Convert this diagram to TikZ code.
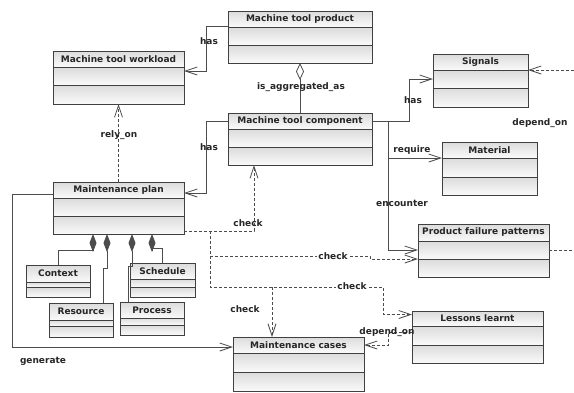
\documentclass[tikz,border=0pt]{standalone}
\usepackage{fontspec}
\setmainfont{DejaVu Sans}
\usetikzlibrary{arrows.meta,positioning,shadows}
\tikzset{
    >={Straight Barb[length=12pt,width=8pt]},
    klasse/.style={
           rectangle,
           draw=black!75, line width=0.9pt,
           top color=black!14, bottom color=black!2,
           anchor=north west,
           inner sep=0pt, outer sep=0pt,
           font=\bfseries\fontsize{9}{10}\selectfont, text=black!85,
           drop shadow={shadow xshift=1.2pt, shadow yshift=-1.2pt, opacity=0.3}},
    rum/.style={
           klasse,
           anchor=north},
    pil/.style={
           ->,
           draw=black!70, line width=0.8pt},
    stiplet/.style={
           pil,
           dash pattern=on 3pt off 2pt},
    komp/.style={
           draw=black!70, line width=0.8pt,
           -{Diamond[length=18pt,width=7pt]}},
    aggr/.style={
           draw=black!70, line width=0.8pt,
           -{Diamond[length=17pt,width=8pt,fill=white]}},
    tekst/.style={
           font=\bfseries\fontsize{9}{10}\selectfont, text=black!85,
           inner sep=1pt}
}
% name, position, width, title, heights of the three parts
\newcommand{\klasse}[7]{%
  \node[klasse, minimum width=#3, minimum height=#5] (#1) at #2 {#4};
  \node[rum, minimum width=#3, minimum height=#6, below=0pt of #1] (#1-a) {};
  \node[rum, minimum width=#3, minimum height=#7, below=0pt of #1-a] (#1-b) {};
}

\begin{document}
\begin{tikzpicture}[x=1pt,y=-1pt]
  \useasboundingbox (0,0) rectangle (574,392);
  % klasser
  \klasse{prod}{(228,11)}{144pt}{Machine tool product}{16pt}{18pt}{18pt}
  \klasse{wkld}{(53,51)}{131pt}{Machine tool workload}{16pt}{18pt}{19pt}
  \klasse{comp}{(228,113)}{144pt}{Machine tool component}{16pt}{18pt}{18pt}
  \klasse{plan}{(53,182)}{131pt}{Maintenance plan}{16pt}{18pt}{18pt}
  \klasse{ctx}{(26,265)}{64pt}{Context}{17pt}{5pt}{10pt}
  \klasse{res}{(49,303)}{64pt}{Resource}{17pt}{6pt}{11pt}
  \klasse{sched}{(130,263)}{65pt}{Schedule}{16pt}{8pt}{10pt}
  \klasse{proc}{(120,302)}{64pt}{Process}{16pt}{7pt}{10pt}
  \klasse{cases}{(233,337)}{131pt}{Maintenance cases}{16pt}{19pt}{19pt}
  \klasse{sig}{(433,54)}{95pt}{Signals}{16pt}{18pt}{19pt}
  \klasse{mat}{(442,142)}{95pt}{Material}{16pt}{19pt}{18pt}
  \klasse{pfp}{(418,224)}{131pt}{Product failure patterns}{17pt}{18pt}{18pt}
  \klasse{less}{(412,311)}{131pt}{Lessons learnt}{15pt}{19pt}{18pt}
  % forbindelser
  \draw[pil] ([yshift=-7pt]prod.west) -- ++(-22,0) |- ([yshift=5pt]wkld-a.east);
  \draw[aggr] (comp.north) -- (prod-b.south);
  \draw[pil] (comp.west) -- ++(-22,0) |- ([yshift=-3pt]plan.east);
  \draw[pil] (comp.east) -- ++(37,0) |- (sig-a.west);
  \draw[pil] (comp.east) -- ++(16,0) |- (mat.south west);
  \draw[pil] (comp.east) -- ++(16,0) |- (pfp-a.west);
  \coordinate (rand1) at (574,70);
  \coordinate (rand2) at (574,250);
  \draw[stiplet] (rand1) -- (sig.south east);
  \draw[stiplet, -] (pfp-a.east) -- (rand2);
  \draw[stiplet] (plan.north) -- (wkld-b.south);
  \draw[stiplet] ([yshift=-6pt]plan-b.east) -| ([xshift=-46pt]comp-b.south);
  \coordinate (k1) at (210,231);
  \coordinate (k2) at (383,287);
  \coordinate (k3) at (370,256);
  \coordinate (k4) at (272,287);
  \draw[stiplet] (k1) |- (k3) |- (pfp-a.south west);
  \draw[stiplet] (k1) |- (k2) |- ([yshift=4pt]less.west);
  \draw[stiplet] (k4) -- (k4 |- cases.north);
  \draw[stiplet] ([yshift=3pt]less-a.west) -- ++(-24,0) |- (cases.east);
  \draw[pil] ([yshift=-4pt]plan.west) -- ++(-41,0) |- ([yshift=-2pt]cases.west);
  \draw[komp] (ctx.north) -- ++(0,-15) -| ([xshift=40pt]plan-b.south west);
  \draw[komp] ([xshift=22pt]res.north) -- ++(0,-35) -| ([xshift=54pt]plan-b.south west);
  \draw[komp] ([xshift=-24pt]proc.north) -- ++(0,-36) -| ([xshift=79pt]plan-b.south west);
  \draw[komp] (sched.north) -- ++(0,-15) -| ([xshift=99pt]plan-b.south west);
  % etiketter
  \node[tekst] (t1) at (209,41) {has};
  \node[tekst] (t2) at (301,87) {is\_aggregated\_as};
  \node[tekst] (t3) at (209,147) {has};
  \node[tekst] (t4) at (119,135) {rely\_on};
  \node[tekst] (t5) at (413,100) {has};
  \node[tekst] (t6) at (412,150) {require};
  \node[tekst] (t7) at (540,123) {depend\_on};
  \node[tekst] (t8) at (402,203) {encounter};
  \node[tekst] (t9) at (248,223) {check};
  \node[tekst, fill=white] (t10) at (333,256) {check};
  \node[tekst, fill=white] (t11) at (352,286) {check};
  \node[tekst] (t12) at (245,309) {check};
  \node[tekst] (t13) at (387,332) {depend\_on};
  \node[tekst] (t14) at (43,361) {generate};
\end{tikzpicture}
\end{document}
